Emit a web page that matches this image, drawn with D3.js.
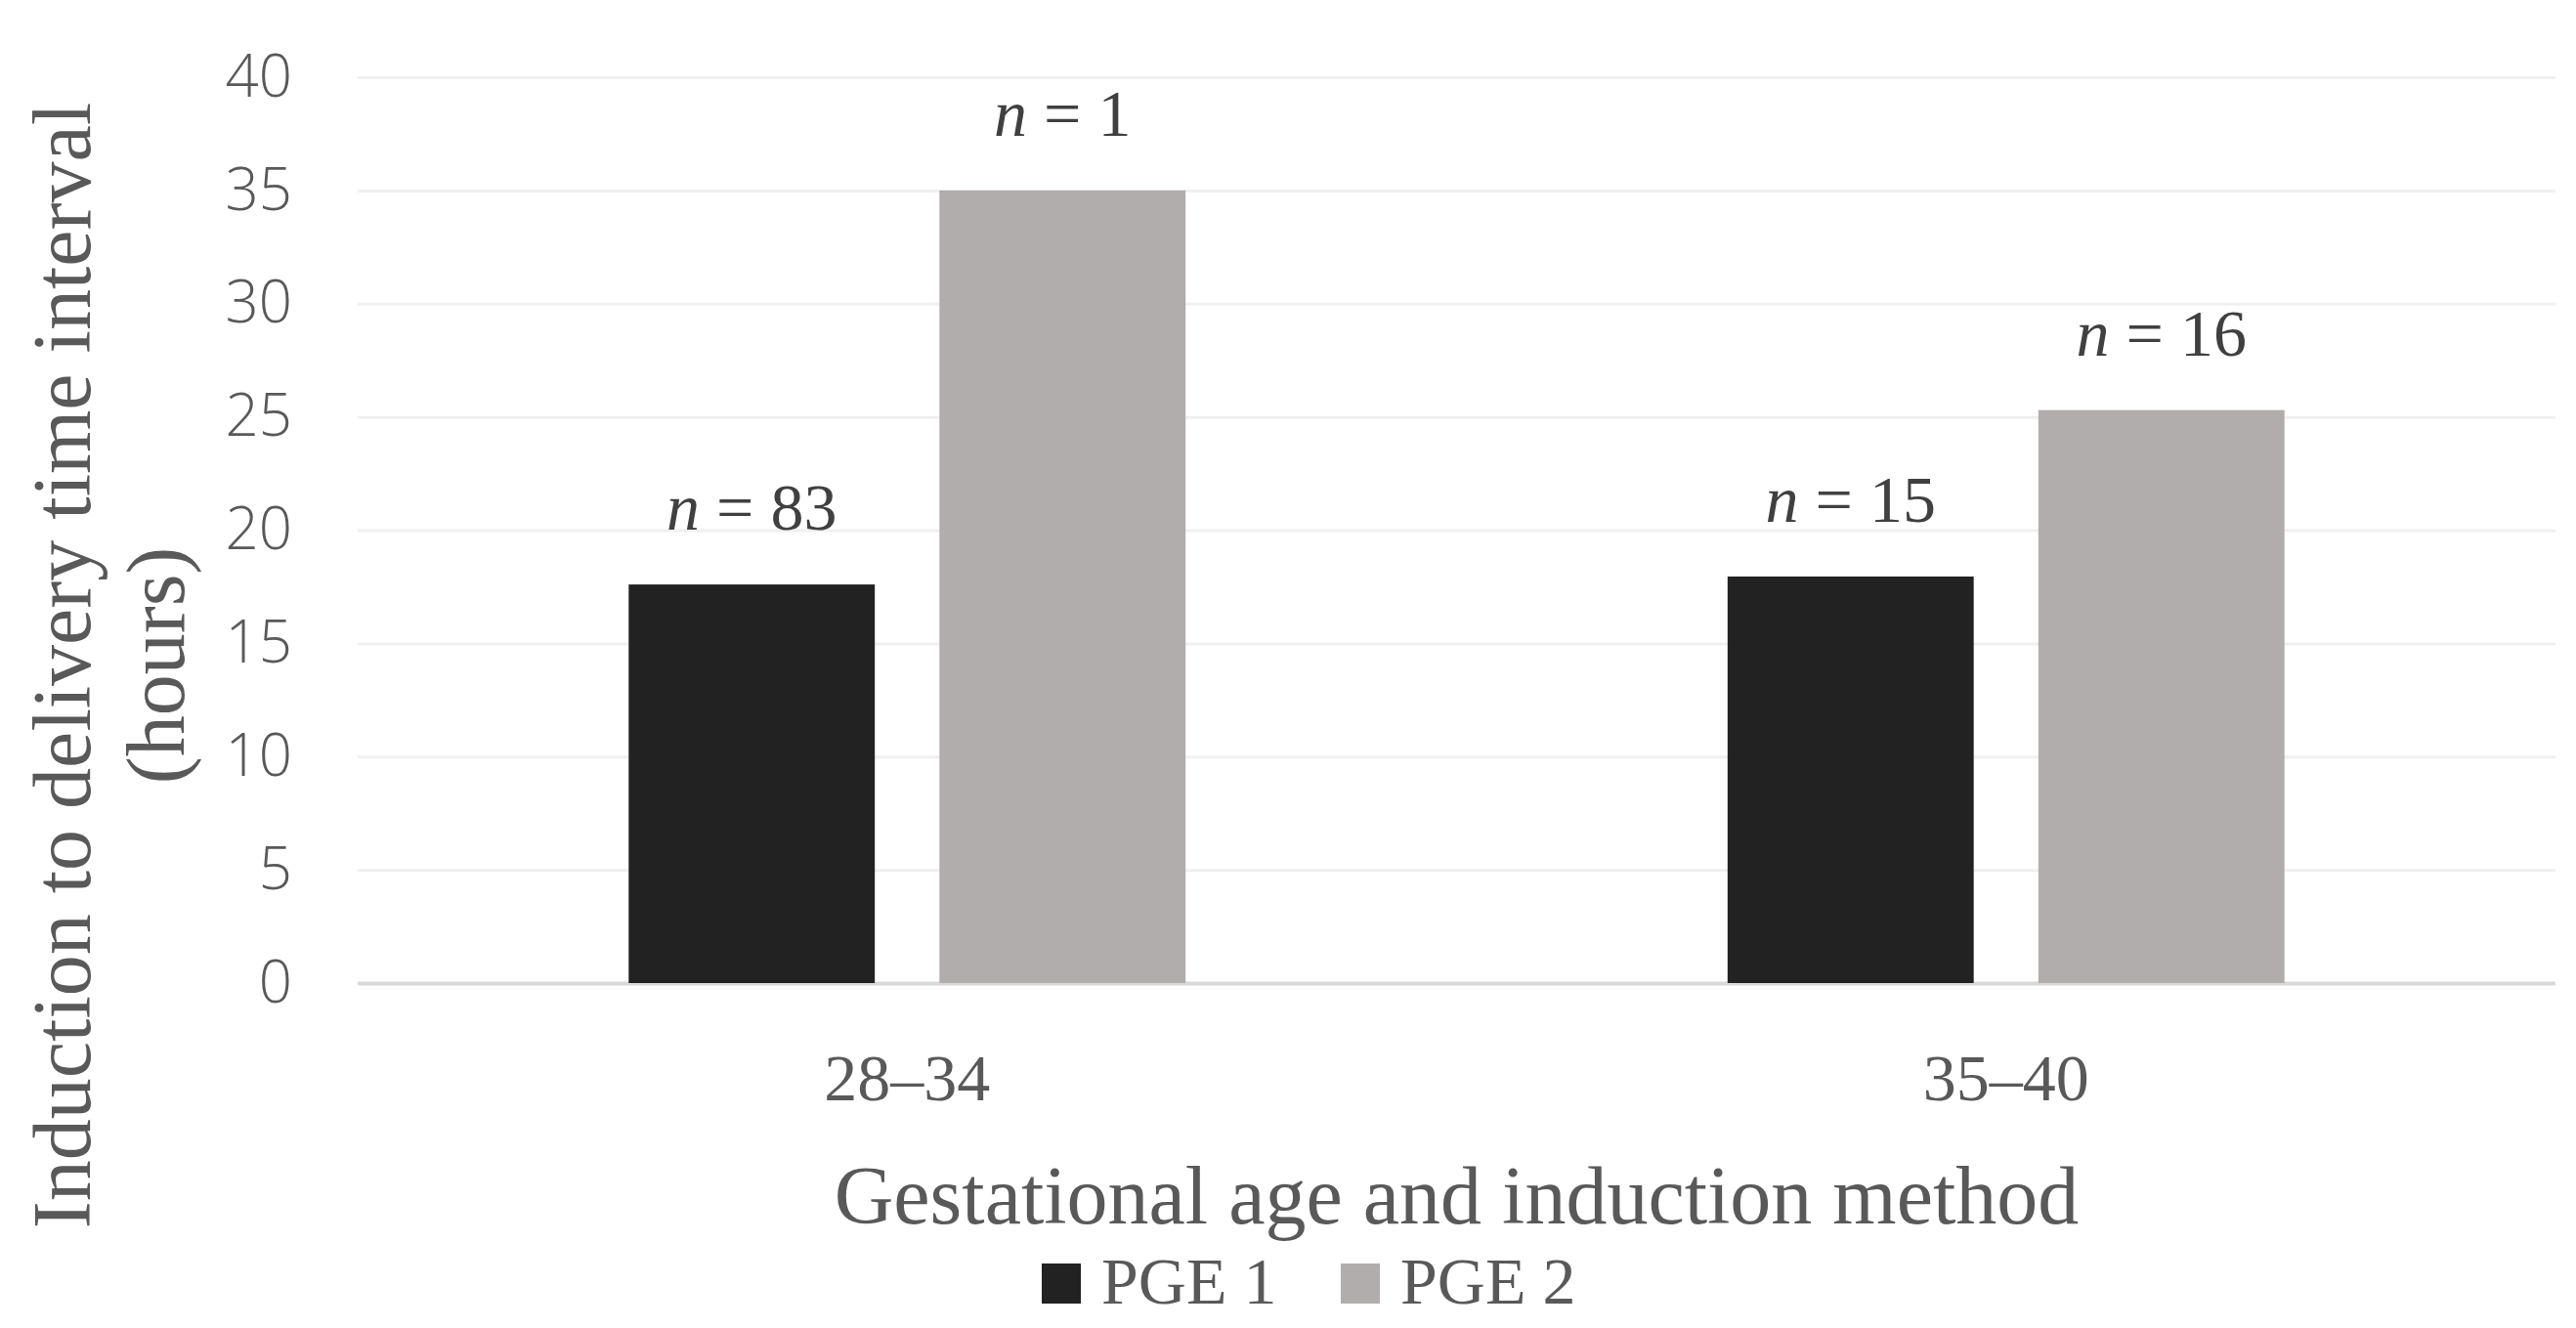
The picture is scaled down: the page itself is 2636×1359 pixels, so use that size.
<!DOCTYPE html>
<html>
<head>
<meta charset="utf-8">
<script src="https://cdn.jsdelivr.net/npm/d3@7"></script>
<style>
  body { margin: 0; background: #fff; }
  svg { display: block; }
</style>
</head>
<body>
<div id="container"></div>
<script>
// Data
const categories = ['28–34', '35–40'];
const seriesNames = ['PGE 1', 'PGE 2'];
const pge1Hours = [17.6, 17.95];
const pge2Hours = [35.0, 25.3];
const pge1N = [83, 15];
const pge2N = [1, 16];
const yTicks = [0, 5, 10, 15, 20, 25, 30, 35, 40];

const svgWidth = 2636;
const svgHeight = 1359;
const plotLeft = 366;
const plotRight = 2615;
const plotTop = 79;
const plotBottom = 1006;

const colors = { 'PGE 1': '#222222', 'PGE 2': '#b1adac' };
const serif = '"Liberation Serif", "Times New Roman", serif';
const textColor = '#595959';

const svg = d3
  .select('#container')
  .append('svg')
  .attr('width', svgWidth)
  .attr('height', svgHeight);

// Scales
const x0 = d3.scaleBand().domain(categories).range([plotLeft, plotRight]).padding(0);
const x1 = d3
  .scaleBand()
  .domain(seriesNames)
  .range([0, x0.bandwidth()])
  .paddingInner(0.208)
  .paddingOuter(0.872);
const y = d3.scaleLinear().domain([0, 40]).range([plotBottom, plotTop]);

// Y-AXIS with gridlines
const yAxis = d3
  .axisLeft(y)
  .tickValues(yTicks)
  .tickSize(-(plotRight - plotLeft))
  .tickPadding(67);

const yG = svg
  .append('g')
  .attr('transform', `translate(${plotLeft},0)`)
  .call(yAxis);

yG.select('.domain').remove();
yG.selectAll('.tick line')
  .attr('stroke', d => (d === 0 ? '#d9d9d9' : '#f0f0f0'))
  .attr('stroke-width', d => (d === 0 ? 4 : 3));
yG.selectAll('.tick text')
  .attr('fill', textColor)
  .attr('font-family', '"Open Sans", sans-serif')
  .attr('font-weight', 300)
  .attr('font-size', 60)
  .attr('dy', '0.32em');

// X-AXIS
const xG = svg
  .append('g')
  .attr('transform', `translate(0,${plotBottom})`)
  .call(d3.axisBottom(x0).tickSize(0).tickPadding(72));
xG.select('.domain').remove();
xG.selectAll('.tick text')
  .attr('fill', textColor)
  .attr('font-family', serif)
  .attr('font-size', 68);

// Bars
const rows = categories.map((c, i) => ({
  category: c,
  values: [
    { key: 'PGE 1', value: pge1Hours[i], n: pge1N[i] },
    { key: 'PGE 2', value: pge2Hours[i], n: pge2N[i] }
  ]
}));

const groups = svg
  .selectAll('.group')
  .data(rows)
  .enter()
  .append('g')
  .attr('class', 'group')
  .attr('transform', d => `translate(${x0(d.category)},0)`);

groups
  .selectAll('rect')
  .data(d => d.values)
  .enter()
  .append('rect')
  .attr('x', d => x1(d.key))
  .attr('y', d => y(d.value))
  .attr('width', x1.bandwidth())
  .attr('height', d => plotBottom - y(d.value))
  .attr('fill', d => colors[d.key]);

// n labels
const nLabels = groups
  .selectAll('.nlabel')
  .data(d => d.values)
  .enter()
  .append('text')
  .attr('class', 'nlabel')
  .attr('x', d => x1(d.key) + x1.bandwidth() / 2)
  .attr('y', d => y(d.value) - 56)
  .attr('text-anchor', 'middle')
  .attr('font-family', serif)
  .attr('font-size', 68)
  .attr('fill', '#404040');
nLabels.append('tspan').attr('font-style', 'italic').text('n');
nLabels.append('tspan').text(d => ` = ${d.n}`);

// Axis titles
svg
  .append('text')
  .attr('x', (plotLeft + plotRight) / 2)
  .attr('y', 1252)
  .attr('text-anchor', 'middle')
  .attr('font-family', serif)
  .attr('font-size', 84)
  .attr('fill', textColor)
  .text('Gestational age and induction method');

const yTitle = svg
  .append('text')
  .attr('transform', 'translate(0,681) rotate(-90)')
  .attr('text-anchor', 'middle')
  .attr('font-family', serif)
  .attr('font-size', 84)
  .attr('fill', textColor);
yTitle.append('tspan').attr('x', 0).attr('y', 92).text('Induction to delivery time interval');
yTitle.append('tspan').attr('x', 0).attr('y', 188).text('(hours)');

// Legend
const legendX = [1066, 1372];
const legend = svg
  .selectAll('.legend')
  .data(seriesNames)
  .enter()
  .append('g')
  .attr('class', 'legend')
  .attr('transform', (d, i) => `translate(${legendX[i]},1293)`);
legend
  .append('rect')
  .attr('width', 40)
  .attr('height', 41)
  .attr('fill', d => colors[d]);
legend
  .append('text')
  .attr('x', 61)
  .attr('y', 41)
  .attr('font-family', serif)
  .attr('font-size', 68)
  .attr('fill', textColor)
  .text(d => d);
</script>
</body>
</html>
